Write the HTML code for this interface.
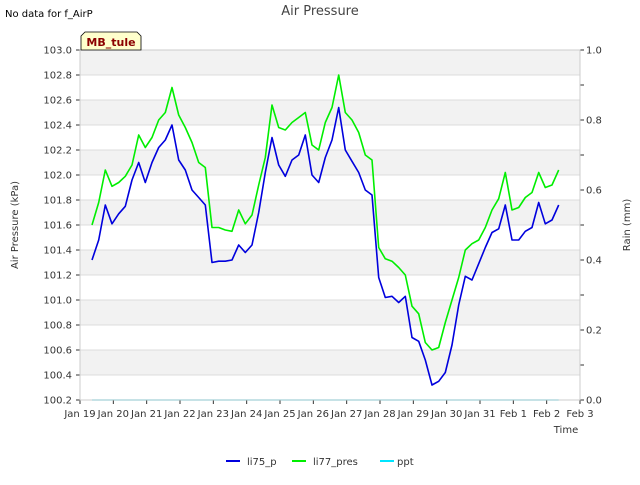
<!DOCTYPE html>
<html><head><meta charset="utf-8"><style>
body{margin:0;background:#fff;font-family:"Liberation Sans","DejaVu Sans",sans-serif}
svg text{font-family:"DejaVu Sans","Liberation Sans",sans-serif}
</style></head><body>
<svg id="c" width="640" height="480" viewBox="0 0 640 480">
<text x="5" y="17" font-size="10" fill="#000">No data for f_AirP</text>
<text x="320" y="15" font-size="13" fill="#444" text-anchor="middle">Air Pressure</text>
<g id="grid"></g>
<g id="plot"></g>
<g id="axes"></g>
<g>
<path d="M81,50 L81,36 L85,32 L137,32 L141,36 L141,50 Z" fill="#ffffcc" stroke="#000" stroke-width="0.8"/>
<text x="111" y="46" font-size="11" font-weight="bold" fill="#8b0000" text-anchor="middle">MB_tule</text>
</g>
<text transform="translate(18,225) rotate(-90)" font-size="10" fill="#333" text-anchor="middle">Air Pressure (kPa)</text>
<text transform="translate(630,225) rotate(-90)" font-size="10" fill="#333" text-anchor="middle">Rain (mm)</text>
<text x="566" y="433" font-size="10" fill="#333" text-anchor="middle">Time</text>
<g>
<g><line x1="226" y1="461" x2="240" y2="461" stroke="#0000dd" stroke-width="2"/><text x="247" y="465" font-size="10" fill="#333">li75_p</text></g>
<g><line x1="292" y1="461" x2="306" y2="461" stroke="#00ee00" stroke-width="2"/><text x="313" y="465" font-size="10" fill="#333">li77_pres</text></g>
<g><line x1="380" y1="461" x2="394" y2="461" stroke="#00e5ff" stroke-width="2"/><text x="397" y="465" font-size="10" fill="#333">ppt</text></g>
</g>
</svg>
<script>
const xTickLabels=["Jan 19","Jan 20","Jan 21","Jan 22","Jan 23","Jan 24","Jan 25","Jan 26","Jan 27","Jan 28","Jan 29","Jan 30","Jan 31","Feb 1","Feb 2","Feb 3"];
const yTicks=[100.2,100.4,100.6,100.8,101.0,101.2,101.4,101.6,101.8,102.0,102.2,102.4,102.6,102.8,103.0];
const y2Ticks=[0,0.2,0.4,0.6,0.8,1.0];
const tStart=0.36, tStep=0.2;
const li75=[101.32,101.48,101.76,101.61,101.69,101.75,101.96,102.10,101.94,102.10,102.22,102.28,102.40,102.12,102.04,101.88,101.82,101.76,101.30,101.31,101.31,101.32,101.44,101.38,101.44,101.70,102.02,102.30,102.08,101.99,102.12,102.16,102.32,102.00,101.94,102.14,102.28,102.54,102.20,102.11,102.02,101.88,101.84,101.18,101.02,101.03,100.98,101.03,100.70,100.67,100.52,100.32,100.35,100.42,100.64,100.96,101.19,101.16,101.29,101.42,101.54,101.57,101.76,101.48,101.48,101.55,101.58,101.78,101.61,101.64,101.76];
const li77=[101.60,101.78,102.04,101.91,101.94,101.99,102.08,102.32,102.22,102.30,102.44,102.50,102.70,102.48,102.38,102.26,102.10,102.06,101.58,101.58,101.56,101.55,101.72,101.61,101.68,101.92,102.14,102.56,102.38,102.36,102.42,102.46,102.50,102.24,102.20,102.42,102.54,102.80,102.50,102.44,102.34,102.16,102.12,101.42,101.33,101.31,101.26,101.20,100.95,100.89,100.66,100.60,100.62,100.82,101.00,101.18,101.40,101.45,101.48,101.58,101.72,101.81,102.02,101.72,101.74,101.82,101.86,102.02,101.90,101.92,102.04];
const ppt=[0,0];
const pptDays=[0.36,14.36];
const NS="http://www.w3.org/2000/svg";
const L=80,R=580,T=50,B=400;
const xs=d=>L+(R-L)*d/15;
const ys=v=>B-(v-100.2)/(103.0-100.2)*(B-T);
const y2s=v=>B-v*(B-T);
function mk(tag,attrs,parent){const e=document.createElementNS(NS,tag);for(const k in attrs)e.setAttribute(k,attrs[k]);parent.appendChild(e);return e;}
const grid=document.getElementById('grid'),plot=document.getElementById('plot'),axes=document.getElementById('axes');
for(let i=0;i<yTicks.length-1;i++){
  if(i%2===1){const r=mk('rect',{x:L,y:ys(yTicks[i+1]),width:R-L,height:ys(yTicks[i])-ys(yTicks[i+1]),fill:'#f2f2f2'},grid);
  
  }
}
yTicks.forEach(v=>{const l=mk('line',{x1:L,x2:R,y1:ys(v),y2:ys(v),stroke:'#dcdcdc','stroke-width':1},grid);


const tk=mk('line',{x1:L-4,x2:L,y1:ys(v),y2:ys(v),stroke:'#333'},axes);


const t=mk('text',{x:L-8,y:ys(v)+3.5,'font-size':10,'text-anchor':'end',fill:'#333'},axes);t.textContent=v.toFixed(1);

});
for(let i=0;i<=10;i++){const v=i/10;const tk=mk('line',{x1:R,x2:R+4,y1:y2s(v),y2:y2s(v),stroke:'#333'},axes);

}
y2Ticks.forEach(v=>{const t=mk('text',{x:R+6,y:y2s(v)+3.5,'font-size':10,fill:'#333'},axes);t.textContent=v.toFixed(1);

});
xTickLabels.forEach((s,i)=>{const tk=mk('line',{x1:xs(i),x2:xs(i),y1:B,y2:B+4,stroke:'#333'},axes);


const t=mk('text',{x:xs(i),y:B+17,'font-size':10,'text-anchor':'middle',fill:'#333'},axes);t.textContent=s;

});
const frame=mk('rect',{x:L,y:T,width:R-L,height:B-T,fill:'none',stroke:'#ccc'},axes);


function series(vals,color,name,fn){const pts=vals.map((v,i)=>xs(tStart+i*tStep).toFixed(1)+','+fn(v).toFixed(1)).join(' ');
const p=mk('polyline',{points:pts,fill:'none',stroke:color,'stroke-width':1.6,'stroke-linejoin':'round'},plot);

}
const pp=mk('polyline',{points:ppt.map((v,i)=>xs(pptDays[i])+','+y2s(v)).join(' '),fill:'none',stroke:'#00e5ff','stroke-width':1.2},plot);


series(li77,'#00ee00','li77-pres-line',ys);
series(li75,'#0000dd','li75-p-line',ys);
</script>
</body></html>
